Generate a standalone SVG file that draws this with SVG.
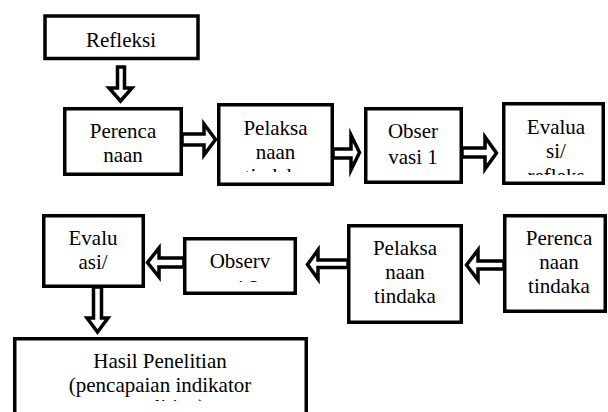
<svg xmlns="http://www.w3.org/2000/svg" width="608" height="412" viewBox="0 0 608 412">
<style>
.box{fill:#fff;stroke:#000;stroke-width:3.5}
.arr{fill:#fff;stroke:#000;stroke-width:3.5;stroke-linejoin:miter;stroke-miterlimit:10}
.t{font-family:"Liberation Serif","Times New Roman",serif;font-size:21px;text-anchor:middle;fill:#000}
</style>
<defs>
<clipPath id="cPel1"><rect x="219" y="105" width="112" height="67"/></clipPath>
<clipPath id="cEval1"><rect x="505" y="105" width="98" height="70"/></clipPath>
<clipPath id="cObs2"><rect x="186" y="240" width="108" height="42"/></clipPath>
<clipPath id="cHasil"><rect x="16" y="340" width="289" height="61"/></clipPath>
</defs>
<rect width="608" height="412" fill="#fff"/>
<g id="connectors">
<path class="arr" d="M117.5,67 H124.5 V88 H132 L120.5,101 L109,88 H117.5 Z"/>
<path class="arr" d="M182,134 H204 V124 L215.5,139.5 L204,155 V145 H182 Z"/>
<path class="arr" d="M333,149 H351 V135 L359.5,152.5 L351,170 V158 H333 Z"/>
<path class="arr" d="M462,148 H485 V137 L496.5,153 L485,169 V157 H462 Z"/>
<path class="arr" d="M504,261 H478 V250 L466.5,265 L478,280 V269 H504 Z"/>
<path class="arr" d="M348,260 H318 V250 L307.5,264.5 L318,279 V267.5 H348 Z"/>
<path class="arr" d="M184,258 H159 V248 L147.5,262.5 L159,277 V267 H184 Z"/>
<path class="arr" d="M93.5,287 V318 H87 L97.5,332 L108,318 H101.5 V287 Z"/>
</g>
<g id="refleksi">
<rect class="box" x="45" y="16" width="153" height="42.5"/>
<text class="t" x="121" y="47">Refleksi</text>
</g>
<g id="perencanaan1">
<rect class="box" x="64.75" y="108.75" width="116.5" height="65.5"/>
<text class="t" x="123" y="138">Perenca</text>
<text class="t" x="123" y="162">naan</text>
</g>
<g id="pelaksanaan1">
<rect class="box" x="218.75" y="104.75" width="113.5" height="79.5"/>
<g clip-path="url(#cPel1)">
<text class="t" x="275.5" y="135">Pelaksa</text>
<text class="t" x="275.5" y="159">naan</text>
<text class="t" x="275.5" y="183">tindaka</text>
</g>
</g>
<g id="observasi1">
<rect class="box" x="365.75" y="108.75" width="95.5" height="73.5"/>
<text class="t" x="413" y="138">Obser</text>
<text class="t" x="413" y="164">vasi 1</text>
</g>
<g id="evaluasi1">
<rect class="box" x="503.75" y="103.75" width="99.5" height="79.5"/>
<g clip-path="url(#cEval1)">
<text class="t" x="556" y="134">Evalua</text>
<text class="t" x="556" y="158">si/</text>
<text class="t" x="556" y="183">refleks</text>
</g>
</g>
<g id="perencanaan2">
<rect class="box" x="504.75" y="215.75" width="100.5" height="95.5"/>
<text class="t" x="559" y="245">Perenca</text>
<text class="t" x="559" y="269">naan</text>
<text class="t" x="559" y="293">tindaka</text>
</g>
<g id="pelaksanaan2">
<rect class="box" x="348.75" y="225.75" width="112.5" height="96.5"/>
<text class="t" x="405" y="255">Pelaksa</text>
<text class="t" x="405" y="279">naan</text>
<text class="t" x="405" y="303">tindaka</text>
</g>
<g id="observasi2">
<rect class="box" x="184.75" y="238.75" width="110.5" height="54.5"/>
<g clip-path="url(#cObs2)">
<text class="t" x="240" y="268">Observ</text>
<text class="t" x="240" y="295">asi 2</text>
</g>
</g>
<g id="evaluasi2">
<rect class="box" x="43.75" y="215.75" width="99.5" height="70.5"/>
<text class="t" x="93" y="245">Evalu</text>
<text class="t" x="93" y="269">asi/</text>
</g>
<g id="hasil">
<rect class="box" x="14.75" y="338.75" width="291.5" height="100"/>
<g clip-path="url(#cHasil)">
<text class="t" x="160" y="368">Hasil Penelitian</text>
<text class="t" x="160" y="392">(pencapaian indikator</text>
<text class="t" x="160" y="414">penelitian)</text>
</g>
</g>
</svg>
